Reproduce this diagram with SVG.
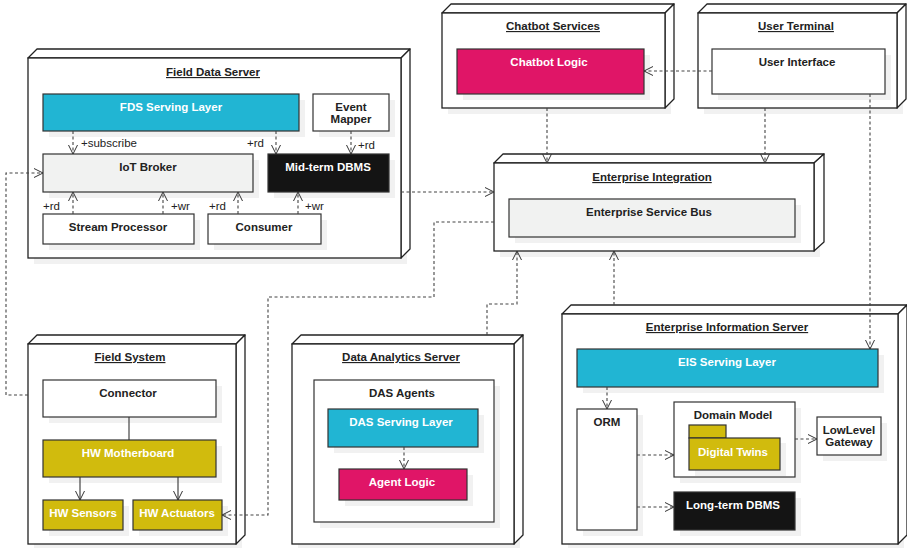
<svg xmlns="http://www.w3.org/2000/svg" width="907" height="548" viewBox="0 0 907 548">
  <defs>
    <marker id="open" markerUnits="userSpaceOnUse" markerWidth="12" markerHeight="12" refX="9" refY="5" orient="auto">
      <path d="M0,0.5 L9,5 L0,9.5" fill="none" stroke="#333" stroke-width="1"/>
    </marker>
  </defs>
  <style>
    text { font-family: "Liberation Sans", Arial, sans-serif; font-size: 11.5px; fill: #222; }
    .b { font-weight: bold; text-anchor: middle; }
    .t { font-weight: bold; text-anchor: middle; text-decoration: underline; }
    .w { fill: #fff; }
    .lbl { font-weight: normal; }
    .front { fill: #fff; stroke: #222; stroke-width: 1.3; }
    .face { fill: #fff; stroke: #222; stroke-width: 1.3; stroke-linejoin: round; }
    .sh { fill: #000; opacity: 0.055; }
    .box { stroke: #333; stroke-width: 1.2; }
    .white { fill: #fff; }
    .grey { fill: #f1f2f1; }
    .cyan { fill: #21b5d3; }
    .mag { fill: #e01567; }
    .yel { fill: #d1bb0d; }
    .blk { fill: #141414; }
    .dash { fill: none; stroke: #444; stroke-width: 1.1; stroke-dasharray: 3 2.5; marker-end: url(#open); }
    .dashn { fill: none; stroke: #444; stroke-width: 1.1; stroke-dasharray: 3 2.5; }
    .solid { fill: none; stroke: #333; stroke-width: 1.1; }
    .solida { fill: none; stroke: #333; stroke-width: 1.1; marker-end: url(#open); }
  </style>

  <!-- Field Data Server -->
  <g id="field-data-server">
    <rect class="sh" x="34" y="64" width="373" height="200"/>
    <path class="face" d="M28,58 L37,49 L410,49 L401,58 Z"/>
    <path class="face" d="M401,58 L410,49 L410,249 L401,258 Z"/>
    <rect class="front" x="28" y="58" width="373" height="200"/>
    <text class="t" x="213" y="76">Field Data Server</text>
  </g>
  <g id="fds-serving-layer">
    <rect class="sh" x="49" y="100" width="256" height="37"/>
    <rect class="box cyan" x="43" y="94" width="256" height="37"/>
    <text class="b w" x="171" y="111">FDS Serving Layer</text>
  </g>
  <g id="event-mapper">
    <rect class="sh" x="319" y="100" width="76" height="37"/>
    <rect class="box white" x="313" y="94" width="76" height="37"/>
    <text class="b" x="351" y="111">Event</text>
    <text class="b" x="351" y="123">Mapper</text>
  </g>
  <g id="iot-broker">
    <rect class="sh" x="49" y="160" width="210" height="38"/>
    <rect class="box grey" x="43" y="154" width="210" height="38"/>
    <text class="b" x="148" y="171">IoT Broker</text>
  </g>
  <g id="mid-term-dbms">
    <rect class="sh" x="274" y="160" width="121" height="38"/>
    <rect class="box blk" x="268" y="154" width="121" height="38"/>
    <text class="b w" x="328" y="171">Mid-term DBMS</text>
  </g>
  <g id="stream-processor">
    <rect class="sh" x="49" y="220" width="151" height="30"/>
    <rect class="box white" x="43" y="214" width="151" height="30"/>
    <text class="b" x="118" y="231">Stream Processor</text>
  </g>
  <g id="consumer">
    <rect class="sh" x="214" y="220" width="113" height="30"/>
    <rect class="box white" x="208" y="214" width="113" height="30"/>
    <text class="b" x="264" y="231">Consumer</text>
  </g>

  <!-- Chatbot Services -->
  <g id="chatbot-services">
    <rect class="sh" x="448" y="19" width="223" height="95"/>
    <path class="face" d="M442,13 L451,4 L674,4 L665,13 Z"/>
    <path class="face" d="M665,13 L674,4 L674,99 L665,108 Z"/>
    <rect class="front" x="442" y="13" width="223" height="95"/>
    <text class="t" x="553" y="30">Chatbot Services</text>
  </g>
  <g id="chatbot-logic">
    <rect class="sh" x="463" y="55" width="187" height="45"/>
    <rect class="box mag" x="457" y="49" width="187" height="45"/>
    <text class="b w" x="549" y="66">Chatbot Logic</text>
  </g>

  <!-- User Terminal -->
  <g id="user-terminal">
    <rect class="sh" x="704" y="19" width="199" height="95"/>
    <path class="face" d="M698,13 L707,4 L906,4 L897,13 Z"/>
    <path class="face" d="M897,13 L906,4 L906,99 L897,108 Z"/>
    <rect class="front" x="698" y="13" width="199" height="95"/>
    <text class="t" x="796" y="30">User Terminal</text>
  </g>
  <g id="user-interface">
    <rect class="sh" x="718" y="55" width="173" height="45"/>
    <rect class="box white" x="712" y="49" width="173" height="45"/>
    <text class="b" x="797" y="66">User Interface</text>
  </g>

  <!-- Enterprise Integration -->
  <g id="enterprise-integration">
    <rect class="sh" x="500" y="169" width="320" height="88"/>
    <path class="face" d="M494,163 L503,154 L824,154 L814,163 Z"/>
    <path class="face" d="M814,163 L824,154 L824,242 L814,251 Z"/>
    <rect class="front" x="494" y="163" width="320" height="88"/>
    <text class="t" x="652" y="181">Enterprise Integration</text>
  </g>
  <g id="enterprise-service-bus">
    <rect class="sh" x="515" y="205" width="286" height="38"/>
    <rect class="box grey" x="509" y="199" width="286" height="38"/>
    <text class="b" x="649" y="216">Enterprise Service Bus</text>
  </g>

  <!-- Field System -->
  <g id="field-system">
    <rect class="sh" x="34" y="350" width="208" height="200"/>
    <path class="face" d="M28,344 L37,335 L245,335 L236,344 Z"/>
    <path class="face" d="M236,344 L245,335 L245,535 L236,544 Z"/>
    <rect class="front" x="28" y="344" width="208" height="200"/>
    <text class="t" x="130" y="361">Field System</text>
  </g>
  <g id="connector">
    <rect class="sh" x="49" y="386" width="173" height="37"/>
    <rect class="box white" x="43" y="380" width="173" height="37"/>
    <text class="b" x="128" y="397">Connector</text>
  </g>
  <g id="hw-motherboard">
    <rect class="sh" x="49" y="446" width="173" height="37"/>
    <rect class="box yel" x="43" y="440" width="173" height="37"/>
    <text class="b w" x="128" y="457">HW Motherboard</text>
  </g>
  <g id="hw-sensors">
    <rect class="sh" x="49" y="506" width="80" height="30"/>
    <rect class="box yel" x="43" y="500" width="80" height="30"/>
    <text class="b w" x="83" y="517">HW Sensors</text>
  </g>
  <g id="hw-actuators">
    <rect class="sh" x="139" y="506" width="89" height="30"/>
    <rect class="box yel" x="133" y="500" width="89" height="30"/>
    <text class="b w" x="177" y="517">HW Actuators</text>
  </g>

  <!-- Data Analytics Server -->
  <g id="data-analytics-server">
    <rect class="sh" x="298" y="350" width="222" height="200"/>
    <path class="face" d="M292,344 L301,335 L523,335 L514,344 Z"/>
    <path class="face" d="M514,344 L523,335 L523,535 L514,544 Z"/>
    <rect class="front" x="292" y="344" width="222" height="200"/>
    <text class="t" x="401" y="361">Data Analytics Server</text>
  </g>
  <g id="das-agents">
    <rect class="sh" x="320" y="386" width="180" height="142"/>
    <rect class="box white" x="314" y="380" width="180" height="142"/>
    <text class="b" x="402" y="397">DAS Agents</text>
  </g>
  <g id="das-serving-layer">
    <rect class="sh" x="334" y="415" width="150" height="38"/>
    <rect class="box cyan" x="328" y="409" width="150" height="38"/>
    <text class="b w" x="401" y="426">DAS Serving Layer</text>
  </g>
  <g id="agent-logic">
    <rect class="sh" x="345" y="475" width="128" height="31"/>
    <rect class="box mag" x="339" y="469" width="128" height="31"/>
    <text class="b w" x="402" y="486">Agent Logic</text>
  </g>

  <!-- Enterprise Information Server -->
  <g id="enterprise-information-server">
    <rect class="sh" x="568" y="320" width="336" height="230"/>
    <path class="face" d="M562,314 L571,305 L907,305 L898,314 Z"/>
    <path class="face" d="M898,314 L907,305 L907,535 L898,544 Z"/>
    <rect class="front" x="562" y="314" width="336" height="230"/>
    <text class="t" x="727" y="331">Enterprise Information Server</text>
  </g>
  <g id="eis-serving-layer">
    <rect class="sh" x="583" y="355" width="301" height="38"/>
    <rect class="box cyan" x="577" y="349" width="301" height="38"/>
    <text class="b w" x="727" y="366">EIS Serving Layer</text>
  </g>
  <g id="orm">
    <rect class="sh" x="583" y="415" width="60" height="121"/>
    <rect class="box white" x="577" y="409" width="60" height="121"/>
    <text class="b" x="607" y="426">ORM</text>
  </g>
  <g id="domain-model">
    <rect class="sh" x="680" y="408" width="121" height="75"/>
    <rect class="box white" x="674" y="402" width="121" height="75"/>
    <text class="b" x="733" y="419">Domain Model</text>
  </g>
  <g id="digital-twins">
    <rect class="sh" x="695" y="443" width="91" height="33"/>
    <rect class="box yel" x="689" y="425" width="37" height="13"/>
    <rect class="box yel" x="689" y="438" width="91" height="32"/>
    <text class="b w" x="733" y="456">Digital Twins</text>
  </g>
  <g id="lowlevel-gateway">
    <rect class="sh" x="823" y="423" width="64" height="38"/>
    <rect class="box white" x="817" y="417" width="64" height="38"/>
    <text class="b" x="849" y="434">LowLevel</text>
    <text class="b" x="849" y="446">Gateway</text>
  </g>
  <g id="long-term-dbms">
    <rect class="sh" x="680" y="498" width="121" height="38"/>
    <rect class="box blk" x="674" y="492" width="121" height="38"/>
    <text class="b w" x="733" y="509">Long-term DBMS</text>
  </g>

  <!-- Connectors -->
  <g id="connectors">
    <path class="dash" d="M73,131 V154"/>
    <text class="lbl" x="81" y="147">+subscribe</text>
    <path class="dash" d="M276,131 V154"/>
    <text class="lbl" x="247" y="147">+rd</text>
    <path class="dash" d="M351,131 V154"/>
    <text class="lbl" x="358" y="149">+rd</text>
    <path class="dash" d="M73,214 V192"/>
    <text class="lbl" x="43" y="210">+rd</text>
    <path class="dash" d="M163,214 V192"/>
    <text class="lbl" x="171" y="210">+wr</text>
    <path class="dash" d="M238,214 V192"/>
    <text class="lbl" x="209" y="210">+rd</text>
    <path class="dash" d="M298,214 V192"/>
    <text class="lbl" x="305" y="210">+wr</text>

    <path class="dash" d="M28,395 H6 V173 H43"/>
    <path class="dash" d="M401,192 H494"/>
    <path class="dash" d="M494,222 H434 V297 H268 V515 H222"/>
    <path class="dash" d="M547,108 V163"/>
    <path class="dash" d="M765,108 V163"/>
    <path class="dash" d="M487,335 V304 H517 V251"/>
    <path class="dash" d="M614,305 V251"/>
    <path class="dash" d="M870,94 V349"/>
    <path class="dash" d="M712,71 H644"/>

    <path class="solid" d="M129,417 V440"/>
    <path class="solida" d="M80,477 V500"/>
    <path class="solida" d="M178,477 V500"/>

    <path class="dash" d="M404,447 V469"/>
    <path class="dash" d="M607,387 V409"/>
    <path class="dash" d="M637,455 H674"/>
    <path class="dash" d="M637,507 H674"/>
    <path class="dash" d="M795,439 H817"/>
  </g>
</svg>
